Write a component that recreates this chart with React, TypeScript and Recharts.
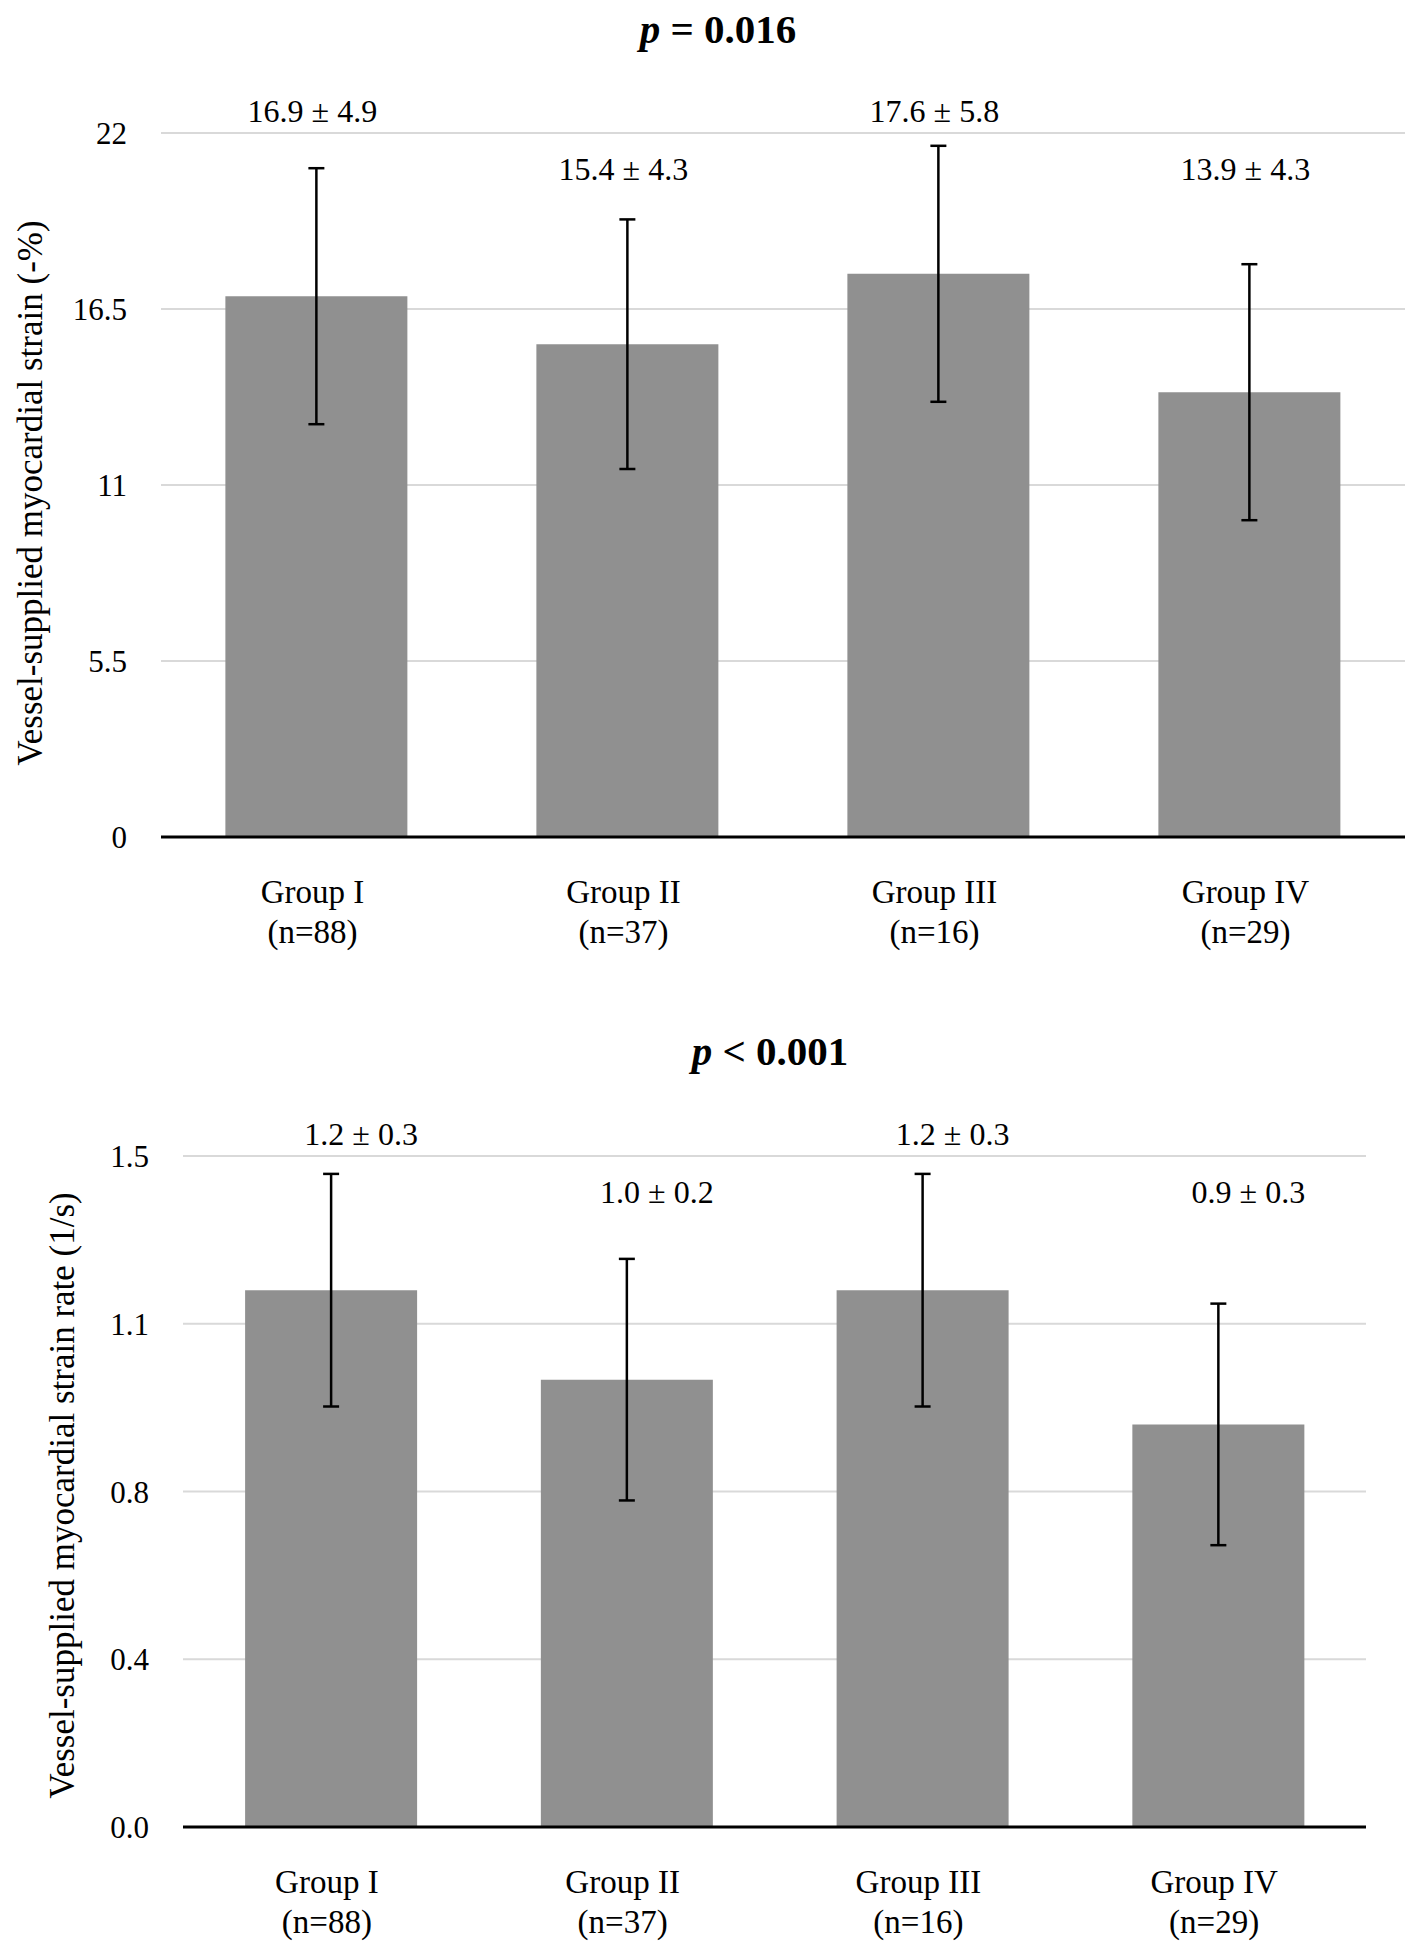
import React from "react";
import {
  BarChart,
  Bar,
  XAxis,
  YAxis,
  CartesianGrid,
  ErrorBar,
  LabelList,
} from "recharts";

const groups = ["Group I", "Group II", "Group III", "Group IV"];
const groupSizes = ["(n=88)", "(n=37)", "(n=16)", "(n=29)"];

// upper panel: vessel-supplied myocardial strain
const strainMeans = [16.9, 15.4, 17.6, 13.9];
const strainErrors = [4.0, 3.9, 4.0, 4.0];
const strainLabels = ["16.9 ± 4.9", "15.4 ± 4.3", "17.6 ± 5.8", "13.9 ± 4.3"];
const strainTicks = [0, 5.5, 11, 16.5, 22];

// lower panel: vessel-supplied myocardial strain rate
const rateMeans = [1.2, 1.0, 1.2, 0.9];
const rateErrors = [0.26, 0.27, 0.26, 0.27];
const rateLabels = ["1.2 ± 0.3", "1.0 ± 0.2", "1.2 ± 0.3", "0.9 ± 0.3"];
const rateTicks = [0, 0.375, 0.75, 1.125, 1.5];

const FONT = "'Liberation Serif', 'Times New Roman', serif";
const BAR_COLOR = "#909090";
const GRID_COLOR = "#d9d9d9";

function buildRows(means: number[], errors: number[], labels: string[]) {
  return groups.map((g, i) => ({
    group: g,
    mean: means[i],
    err: errors[i],
    label: labels[i],
  }));
}

const GroupTick = (props: any) => {
  const { x, y, payload } = props;
  const i = groups.indexOf(payload.value);
  return (
    <g>
      <text x={x - 4} y={y + 66} textAnchor="middle" fontSize={33} fontFamily={FONT} fill="#000">
        {payload.value}
      </text>
      <text x={x - 4} y={y + 106} textAnchor="middle" fontSize={33} fontFamily={FONT} fill="#000">
        {groupSizes[i]}
      </text>
    </g>
  );
};

type PanelProps = {
  top: number;
  height: number;
  margin: { top: number; right: number; bottom: number; left: number };
  yWidth: number;
  rows: any[];
  ticks: number[];
  fmt: (v: number) => string;
  yLabel: string;
  yLabelX: number;
  yLabelDy: number;
  labelLevels: number[];
  labelDx: number;
  labelFont: number;
  gap: string;
};

function Panel(p: PanelProps) {
  const maxY = p.ticks[p.ticks.length - 1];

  const renderValueLabel = (props: any) => {
    const vb = props.viewBox || props;
    const idx = props.index;
    const row = p.rows[idx];
    if (!row) return null;
    const pxPerUnit = vb.height / row.mean;
    const base = vb.y + vb.height;
    return (
      <text
        x={vb.x + vb.width / 2 + p.labelDx}
        y={base - p.labelLevels[idx] * pxPerUnit}
        textAnchor="middle"
        fontSize={p.labelFont}
        fontFamily={FONT}
        fill="#000"
      >
        {row.label}
      </text>
    );
  };

  const renderYLabel = (props: any) => {
    const vb = props.viewBox;
    const cy = vb.y + vb.height / 2 + p.yLabelDy;
    return (
      <text
        x={p.yLabelX}
        y={cy}
        transform={`rotate(-90, ${p.yLabelX}, ${cy})`}
        textAnchor="middle"
        dominantBaseline="central"
        fontSize={35}
        fontFamily={FONT}
        fill="#000"
      >
        {p.yLabel}
      </text>
    );
  };

  return (
    <div style={{ position: "absolute", left: 0, top: p.top }}>
      <BarChart
        width={1417}
        height={p.height}
        data={p.rows}
        margin={p.margin}
        barCategoryGap={p.gap}
      >
        <CartesianGrid vertical={false} stroke={GRID_COLOR} strokeWidth={2} />
        <XAxis
          dataKey="group"
          interval={0}
          height={110}
          tickLine={false}
          tickSize={0}
          tickMargin={0}
          axisLine={{ stroke: "#000", strokeWidth: 3 }}
          tick={<GroupTick />}
        />
        <YAxis
          domain={[0, maxY]}
          ticks={p.ticks}
          tickFormatter={p.fmt}
          width={p.yWidth}
          axisLine={false}
          tickLine={false}
          tickSize={0}
          tickMargin={34}
          interval={0}
          tick={{ fontSize: 31, fill: "#000", fontFamily: FONT }}
          label={{ content: renderYLabel }}
        />
        <Bar dataKey="mean" fill={BAR_COLOR} isAnimationActive={false}>
          <ErrorBar
            dataKey="err"
            direction="y"
            width={8}
            stroke="#000"
            strokeWidth={2.5}
            isAnimationActive={false}
          />
          <LabelList dataKey="label" content={renderValueLabel} />
        </Bar>
      </BarChart>
    </div>
  );
}

export default function App() {
  const strainRows = buildRows(strainMeans, strainErrors, strainLabels);
  const rateRows = buildRows(rateMeans, rateErrors, rateLabels);

  return (
    <div
      style={{
        position: "absolute",
        left: 0,
        top: 0,
        width: 1417,
        height: 1952,
        background: "#fff",
        fontFamily: FONT,
      }}
    >
      <Panel
        top={0}
        height={980}
        margin={{ top: 133, right: 12, bottom: 33, left: 0 }}
        yWidth={161}
        rows={strainRows}
        ticks={strainTicks}
        fmt={(v) => String(v)}
        yLabel="Vessel-supplied myocardial strain (-%)"
        yLabelX={30}
        yLabelDy={8}
        labelLevels={[22.34, 20.52, 22.34, 20.52]}
        labelDx={-4}
        labelFont={32}
        gap="20.7%"
      />
      <Panel
        top={980}
        height={972}
        margin={{ top: 176, right: 51, bottom: 15, left: 0 }}
        yWidth={183}
        rows={rateRows}
        ticks={rateTicks}
        fmt={(v) => v.toFixed(1)}
        yLabel="Vessel-supplied myocardial strain rate (1/s)"
        yLabelX={62}
        yLabelDy={4}
        labelLevels={[1.524, 1.394, 1.524, 1.394]}
        labelDx={30}
        labelFont={32}
        gap="21%"
      />
      <svg
        width={1417}
        height={1952}
        style={{ position: "absolute", left: 0, top: 0, pointerEvents: "none" }}
      >
        <text x={718} y={43} textAnchor="middle" fontSize={41} fontWeight="bold" fontFamily={FONT} fill="#000">
          <tspan fontStyle="italic">p</tspan> = 0.016
        </text>
        <text x={770} y={1065} textAnchor="middle" fontSize={41} fontWeight="bold" fontFamily={FONT} fill="#000">
          <tspan fontStyle="italic">p</tspan> {"<"} 0.001
        </text>
      </svg>
    </div>
  );
}
